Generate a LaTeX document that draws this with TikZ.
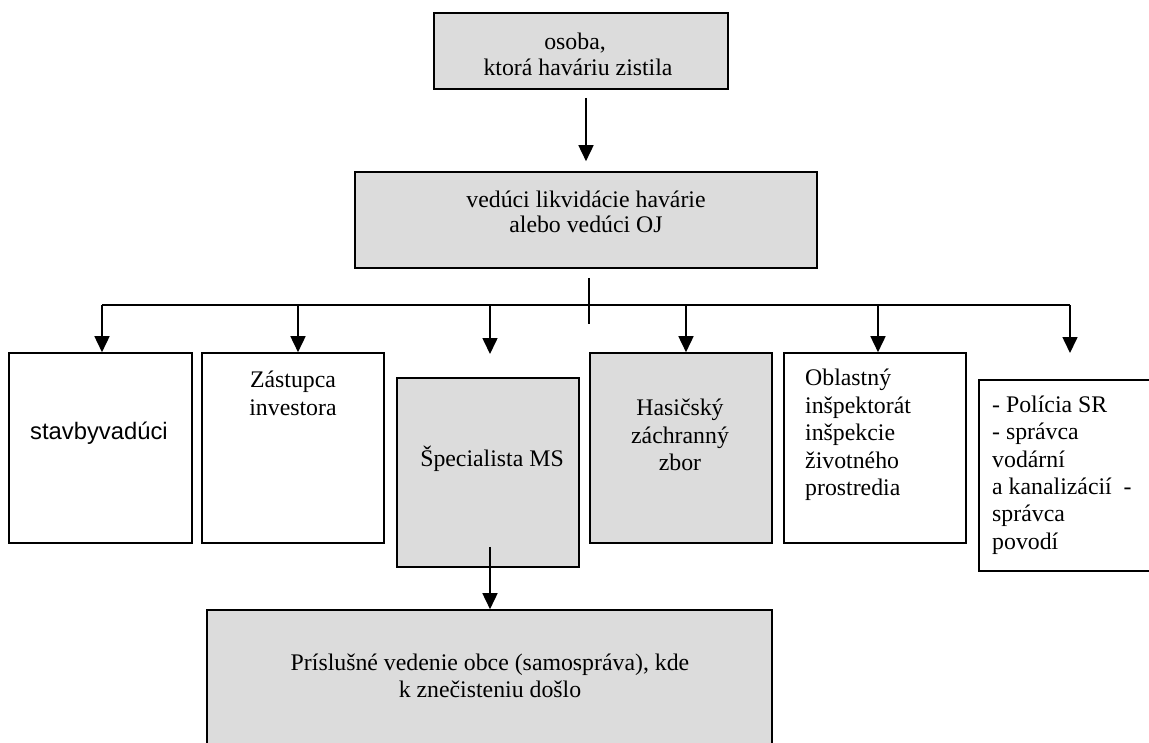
\documentclass[tikz,border=0pt]{standalone}
\usepackage{fontspec}
\setmainfont{Liberation Serif}
\newfontfamily\arialf{Liberation Sans}
\usetikzlibrary{arrows.meta}
\definecolor{boxgray}{RGB}{220,220,220}
\begin{document}
\begin{tikzpicture}[x=1pt,y=-1pt,
  box/.style={draw=black, line width=1.6pt, rectangle, inner sep=0pt},
  graybox/.style={box, fill=boxgray},
  txt/.style={font=\fontsize{23.8}{27.4}\selectfont, inner sep=0pt, align=center},
  txttight/.style={font=\fontsize{23.8}{25.5}\selectfont, inner sep=0pt, align=center},
  conn/.style={line width=1.6pt},
  arr/.style={conn, -{Triangle[width=15pt,length=16pt]}}
]
\clip (0,0) rectangle (1149,742);
\fill[white] (0,0) rectangle (1149,742);

% boxes
\node[graybox, minimum width=294pt, minimum height=76pt] (top) at (581,51) {};
\node[graybox, minimum width=462pt, minimum height=96pt] (lead) at (586,220) {};
\node[box, minimum width=183pt, minimum height=190pt] (b1) at (100.5,448) {};
\node[box, minimum width=182pt, minimum height=190pt] (b2) at (293,448) {};
\node[graybox, minimum width=182pt, minimum height=189pt] (b3) at (488,472.5) {};
\node[graybox, minimum width=182pt, minimum height=190pt] (b4) at (681,448) {};
\node[box, minimum width=182pt, minimum height=190pt] (b5) at (875,448) {};
\node[box, minimum width=186pt, minimum height=191pt] (b6) at (1072,475.5) {};
\node[graybox, minimum width=565pt, minimum height=160pt] (bot) at (489.5,690) {};

% texts
\node[txttight] (t0) at (578,54.5) {osoba,~~\\ ktorá haváriu zistila};
\node[txttight] (t1) at (586,212) {vedúci likvidácie havárie\\ alebo vedúci OJ};
\node[txt, font=\arialf\fontsize{23.8}{27.4}\selectfont] (t2) at (99,433) {stavbyvadúci};
\node[txt] (t3) at (293,393.5) {Zástupca\\ investora};
\node[txt] (t4) at (492,459) {Špecialista MS};
\node[txt] (t5) at (680,435) {Hasičský\\ záchranný\\ zbor};
\node[txt, align=left, anchor=west] (t6) at (805,435) {Oblastný\\ inšpektorát\\ inšpekcie\\ životného\\ prostredia};
\node[txt, align=left, anchor=west] (t7) at (992,475) {- Polícia SR\\ - správca\\ vodární\\ a kanalizácií~ -\\ správca\\ povodí};
\node[txt] (t8) at (490,676) {Príslušné vedenie obce (samospráva), kde\\ k znečisteniu došlo};

% connectors
\draw[arr] (top.south -| lead.north) ++(0,8) -- ([yshift=10pt]lead.north);
\coordinate (stubtop) at ([xshift=3pt,yshift=-9pt]lead.south);
\draw[conn] (stubtop) -- ++(0,46);
\coordinate (d1) at (102,305);
\coordinate (d2) at (298,305);
\coordinate (d3) at (490,305);
\coordinate (d4) at (686,305);
\coordinate (d5) at (878,305);
\coordinate (d6) at (1070,305);
\draw[conn] (d1) -- (d6);
\draw[arr] (d1) -- (d1 |- b1.north);
\draw[arr] (d2) -- (d2 |- b2.north);
\draw[arr] (d3) -- ++(0,49);
\draw[arr] (d4) -- (d4 |- b4.north);
\draw[arr] (d5) -- (d5 |- b5.north);
\draw[arr] (d6) -- ++(0,48);
\draw[arr] (b3.south -| d3) ++(0,-21) -- (bot.north -| d3);
\end{tikzpicture}
\end{document}
